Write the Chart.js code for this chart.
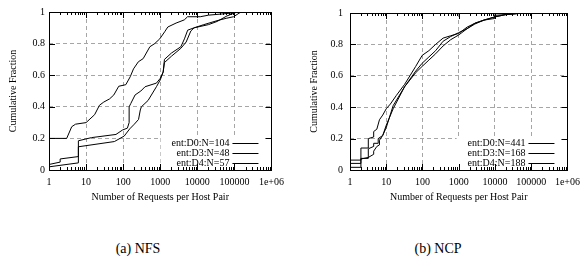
<!DOCTYPE html>
<html lang="en">

<head>
    <meta charset="UTF-8" />
    <title>Requests per host pair CDF</title>
    <script src="https://cdn.jsdelivr.net/npm/chart.js"></script>
    <style>
        body {
            margin: 0;
            padding: 0;
            background: #fff;
            width: 586px;
            height: 267px;
            position: relative;
            overflow: hidden;
            font-family: "Liberation Serif", "Times New Roman", Times, serif;
        }

        .panel {
            position: absolute;
            top: 0;
            width: 290px;
            height: 203px;
        }

        .caption {
            position: absolute;
            top: 241px;
            width: 120px;
            text-align: center;
            font-size: 14px;
            color: #000;
        }
    </style>
</head>

<body>
    <div class="panel" style="left:0px"><canvas id="nfsChart" width="290" height="203"></canvas></div>
    <div class="panel" style="left:296px"><canvas id="ncpChart" width="290" height="203"></canvas></div>
    <div class="caption" style="left:78px">(a) NFS</div>
    <div class="caption" style="left:378px">(b) NCP</div>

    <script>
        // tick labels
        const xTicks = [1, 10, 100, 1000, 10000, 100000, 1000000];
        const xTickLabels = ["1", "10", "100", "1000", "10000", "100000", "1e+06"];
        const yTicks = [0, 0.2, 0.4, 0.6, 0.8, 1];

        // (a) NFS
        const nfsLabels = ["ent:D0:N=104", "ent:D3:N=48", "ent:D4:N=57"];
        const nfsD0X = [1, 1, 3.0, 4.1, 5.2, 10, 17, 23, 30, 43, 56, 76, 118, 155, 190, 257, 347, 525, 710, 970, 1320, 1600, 2680, 4450, 5450, 12000, 20000, 60000, 150000];
        const nfsD0Y = [0, 0.20, 0.20, 0.274, 0.29, 0.30, 0.35, 0.41, 0.43, 0.45, 0.475, 0.53, 0.54, 0.59, 0.64, 0.685, 0.705, 0.78, 0.80, 0.83, 0.875, 0.905, 0.93, 0.95, 0.97, 0.97, 0.98, 0.99, 1.0];
        const nfsD3X = [1, 1, 2, 2, 6.2, 6.2, 14, 64, 96, 130, 145, 145, 160, 210, 300, 390, 790, 1000, 1200, 1300, 2000, 3600, 4500, 5500, 8200, 20000, 34000, 63000, 117000, 200000];
        const nfsD3Y = [0, 0.035, 0.05, 0.07, 0.085, 0.185, 0.205, 0.225, 0.253, 0.265, 0.30, 0.40, 0.42, 0.475, 0.50, 0.527, 0.55, 0.58, 0.62, 0.70, 0.74, 0.78, 0.83, 0.885, 0.90, 0.92, 0.94, 0.975, 1.0, 1.0];
        const nfsD4X = [1, 1, 6.2, 6.2, 58, 107, 150, 200, 260, 290, 310, 470, 790, 1000, 1200, 1300, 2000, 3600, 5000, 6700, 8200, 15000, 34000, 60000, 95000, 150000, 200000];
        const nfsD4Y = [0, 0.02, 0.045, 0.147, 0.18, 0.215, 0.26, 0.29, 0.32, 0.38, 0.40, 0.44, 0.527, 0.57, 0.62, 0.68, 0.72, 0.77, 0.81, 0.88, 0.90, 0.92, 0.945, 0.96, 0.97, 1.0, 1.0];

        // (b) NCP
        const ncpLabels = ["ent:D0:N=441", "ent:D3:N=168", "ent:D4:N=188"];
        const ncpD0X = [1, 1, 2, 2, 3.2, 3.2, 4.5, 4.5, 5.5, 6.5, 8, 10, 13, 19, 32, 45, 65, 98, 150, 230, 370, 600, 1000, 1700, 2800, 5000, 9800, 20000, 50000, 100000];
        const ncpD0Y = [0, 0.063, 0.063, 0.14, 0.14, 0.20, 0.21, 0.245, 0.26, 0.32, 0.35, 0.39, 0.42, 0.475, 0.545, 0.60, 0.66, 0.73, 0.76, 0.80, 0.84, 0.855, 0.87, 0.91, 0.935, 0.955, 0.975, 0.99, 0.998, 1.0];
        const ncpD3X = [1, 1, 2, 2, 3.2, 3.2, 4.5, 4.5, 6, 6, 8, 10, 15.5, 32, 65, 98, 150, 230, 370, 600, 1000, 1700, 2800, 5000, 9800, 9800, 20000, 60000];
        const ncpD3Y = [0, 0.042, 0.042, 0.074, 0.074, 0.135, 0.15, 0.17, 0.17, 0.20, 0.22, 0.27, 0.41, 0.53, 0.63, 0.68, 0.72, 0.76, 0.82, 0.85, 0.875, 0.90, 0.935, 0.955, 0.965, 0.985, 0.99, 1.0];
        const ncpD4X = [1, 1, 2, 2, 3.2, 4.5, 4.5, 5.5, 6.5, 6.5, 8, 10, 15.5, 32, 65, 98, 150, 230, 370, 600, 1000, 1700, 2800, 5000, 9800, 20000, 60000];
        const ncpD4Y = [0, 0.017, 0.017, 0.07, 0.08, 0.10, 0.12, 0.15, 0.16, 0.19, 0.22, 0.285, 0.39, 0.53, 0.62, 0.66, 0.70, 0.74, 0.79, 0.83, 0.86, 0.90, 0.93, 0.955, 0.975, 0.99, 1.0];

        const FONT = "'Liberation Serif', 'Times New Roman', Times, serif";

        function toPoints(xs, ys) {
            return xs.map((x, i) => ({ x: x, y: ys[i] }));
        }

        // gnuplot-style frame, inward ticks and the boxed key
        const gnuplotFrame = {
            id: "gnuplotFrame",
            beforeDatasetsDraw(chart, args, opts) {
                const ctx = chart.ctx;
                const a = chart.chartArea;
                ctx.save();
                ctx.font = "10px " + FONT;
                const textRight = a.right - 42;
                let widest = 0;
                opts.labels.forEach((l) => { widest = Math.max(widest, ctx.measureText(l).width); });
                // white key box hides the grid underneath
                const boxLeft = textRight - widest - opts.boxPad;
                ctx.fillStyle = "#fff";
                ctx.fillRect(boxLeft, a.bottom - 33, a.right - boxLeft, 33);
                ctx.fillStyle = "#000";
                ctx.strokeStyle = "#000";
                ctx.lineWidth = 1;
                ctx.textAlign = "right";
                ctx.textBaseline = "middle";
                opts.labels.forEach((l, i) => {
                    const y = a.bottom - 27 + i * 10;
                    ctx.fillText(l, textRight, y);
                    ctx.beginPath();
                    ctx.moveTo(a.right - 39, Math.round(y) + 0.5);
                    ctx.lineTo(a.right - 13, Math.round(y) + 0.5);
                    ctx.stroke();
                });
                ctx.restore();
            },
            afterDraw(chart) {
                const ctx = chart.ctx;
                const a = chart.chartArea;
                const xs = chart.scales.x;
                const ys = chart.scales.y;
                ctx.save();
                ctx.strokeStyle = "#000";
                ctx.lineWidth = 1;
                ctx.beginPath();
                // x ticks (major + log minor), bottom and top
                for (let e = 0; e < 6; e++) {
                    for (let m = 1; m < 10; m++) {
                        const v = m * Math.pow(10, e);
                        const px = Math.round(xs.getPixelForValue(v)) + 0.5;
                        const len = m === 1 ? 6 : 3;
                        ctx.moveTo(px, a.bottom);
                        ctx.lineTo(px, a.bottom - len);
                        ctx.moveTo(px, a.top);
                        ctx.lineTo(px, a.top + len);
                    }
                }
                yTicks.forEach((v) => {
                    const py = Math.round(ys.getPixelForValue(v)) + 0.5;
                    ctx.moveTo(a.left, py);
                    ctx.lineTo(a.left + 6, py);
                    ctx.moveTo(a.right, py);
                    ctx.lineTo(a.right - 6, py);
                });
                ctx.stroke();
                ctx.strokeRect(Math.round(a.left) + 0.5, Math.round(a.top) + 0.5, Math.round(a.right - a.left), Math.round(a.bottom - a.top));
                ctx.restore();
            }
        };

        function makeChart(id, series, labels, yWidth, rightPad, yLabelPad, yTitlePad) {
            const ctx = document.getElementById(id).getContext("2d");
            return new Chart(ctx, {
                type: "scatter",
                data: {
                    datasets: series.map((s, i) => ({
                        label: labels[i],
                        data: s,
                        showLine: true,
                        borderColor: "#000",
                        borderWidth: 1,
                        pointRadius: 0,
                        tension: 0,
                        fill: false,
                    })),
                },
                options: {
                    responsive: false,
                    animation: false,
                    devicePixelRatio: 1,
                    layout: { padding: { top: 12, right: rightPad, bottom: 0, left: 0 } },
                    plugins: {
                        legend: { display: false },
                        tooltip: { enabled: false },
                        gnuplotFrame: { labels: labels, boxPad: 11 },
                    },
                    scales: {
                        x: {
                            type: "logarithmic",
                            min: 1,
                            max: 1000000,
                            afterBuildTicks: (scale) => { scale.ticks = xTicks.map((v) => ({ value: v })); },
                            afterFit: (scale) => { scale.height = 33; },
                            ticks: {
                                autoSkip: false,
                                maxRotation: 0,
                                padding: 6,
                                color: "#000",
                                font: { family: FONT, size: 10 },
                                callback: (v) => xTickLabels[xTicks.indexOf(v)],
                            },
                            grid: { color: "#a6a6a6", lineWidth: 1, drawTicks: false },
                            border: { display: false, dash: [4, 3] },
                            title: {
                                display: true,
                                text: "Number of Requests per Host Pair",
                                color: "#000",
                                font: { family: FONT, size: 10 },
                                padding: { top: 0, bottom: 0 },
                            },
                        },
                        y: {
                            min: 0,
                            max: 1,
                            afterBuildTicks: (scale) => { scale.ticks = yTicks.map((v) => ({ value: v })); },
                            afterFit: (scale) => { scale.width = yWidth; },
                            ticks: {
                                padding: yLabelPad,
                                color: "#000",
                                font: { family: FONT, size: 10 },
                                callback: (v) => String(v),
                            },
                            grid: { color: "#a6a6a6", lineWidth: 1, drawTicks: false },
                            border: { display: false, dash: [4, 3] },
                            title: {
                                display: true,
                                text: "Cumulative Fraction",
                                color: "#000",
                                font: { family: FONT, size: 10 },
                                padding: { top: yTitlePad, bottom: 0 },
                            },
                        },
                    },
                },
                plugins: [gnuplotFrame],
            });
        }

        makeChart("nfsChart",
            [toPoints(nfsD0X, nfsD0Y), toPoints(nfsD3X, nfsD3Y), toPoints(nfsD4X, nfsD4Y)],
            nfsLabels, 49, 14, 4, 7);
        makeChart("ncpChart",
            [toPoints(ncpD0X, ncpD0Y), toPoints(ncpD3X, ncpD3Y), toPoints(ncpD4X, ncpD4Y)],
            ncpLabels, 54, 11, 7, 12);
    </script>
</body>

</html>
